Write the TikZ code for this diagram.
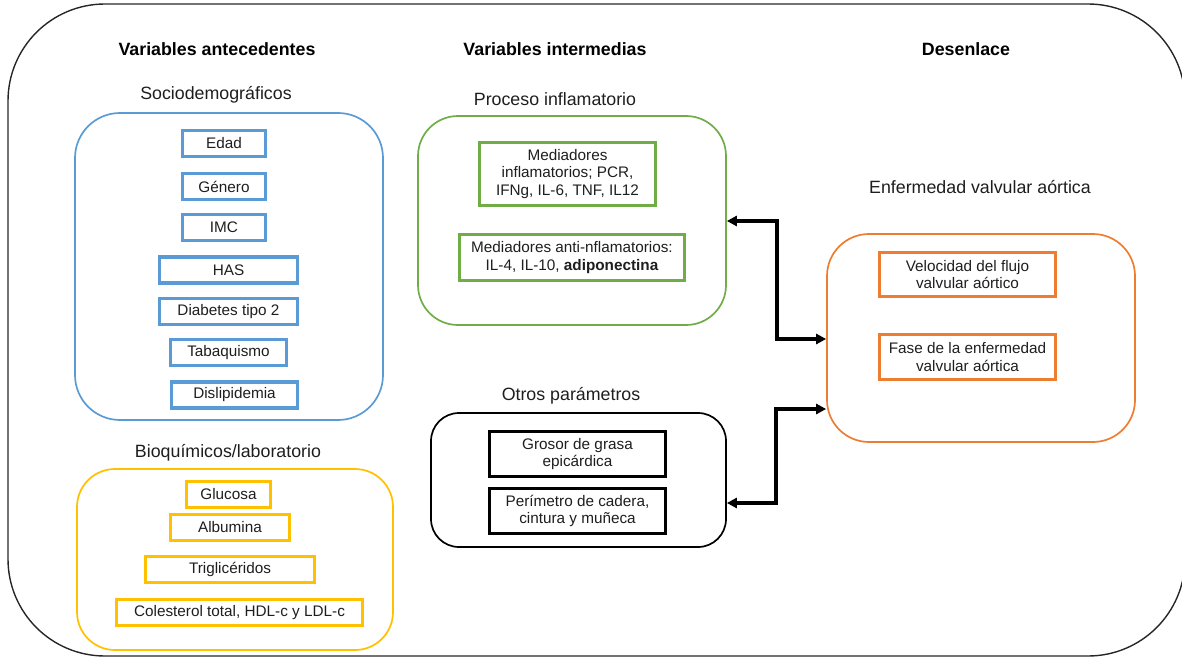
\documentclass[tikz,border=0pt]{standalone}
\usepackage{fontspec}
\setmainfont{Liberation Sans}
\usetikzlibrary{arrows.meta}
\definecolor{cblue}{HTML}{5B9BD5}
\definecolor{cgreen}{HTML}{70AD47}
\definecolor{cyellow}{HTML}{FFC000}
\definecolor{corange}{HTML}{ED7D31}
\definecolor{ctext}{HTML}{1E1E1E}
\tikzset{
  head/.style={font=\fontsize{17.8}{20}\selectfont\bfseries, text=black, inner sep=0pt},
  sub/.style={font=\fontsize{17.8}{20}\selectfont, text=ctext, inner sep=0pt},
  group/.style={draw=#1, line width=1.7pt, inner sep=0pt},
  item/.style={draw=#1, line width=3.2pt, inner sep=0pt, align=center, text=ctext,
    font=\fontsize{15.3}{17.5}\selectfont},
  link/.style={draw=black, line width=3.2pt, {Triangle[length=10pt,width=10pt]}-{Triangle[length=10pt,width=10pt]}}
}
\begin{document}
\begin{tikzpicture}[x=1pt,y=-1pt]
\useasboundingbox (0,0) rectangle (1182,658);
% outer frame
\draw[line width=1.4pt, draw=black!85, rounded corners=97pt] (8,4) rectangle (1185,656);

% headings
\node[head] (h1) at (217,49) {Variables antecedentes};
\node[head] (h2) at (555,49) {Variables intermedias};
\node[head] (h3) at (966,49) {Desenlace};

% group titles
\node[sub] (t1) at (216,95) {Sociodemográficos};
\node[sub] (t2) at (228,453) {Bioquímicos/laboratorio};
\node[sub] (t3) at (555,99) {Proceso inflamatorio};
\node[sub] (t4) at (571,396) {Otros parámetros};
\node[sub] (t5) at (980,187) {Enfermedad valvular aórtica};

% group containers
\node[group=cblue, rounded corners=45pt, minimum width=308pt, minimum height=307pt] (socio) at (229,266.5) {};
\node[group=cyellow, rounded corners=38pt, minimum width=316pt, minimum height=181pt] (bio) at (235,559.5) {};
\node[group=cgreen, rounded corners=40pt, minimum width=308pt, minimum height=209pt] (infl) at (572,220.5) {};
\node[group=black, rounded corners=28pt, minimum width=295pt, minimum height=134pt] (otros) at (578.5,480) {};
\node[group=corange, rounded corners=42pt, minimum width=308pt, minimum height=208pt] (enf) at (981,338) {};

% sociodemographic items
\node[item=cblue, minimum width=83pt, minimum height=26pt] (edad) at (224,143.5) {Edad};
\node[item=cblue, minimum width=83pt, minimum height=26pt] (genero) at (224,186.5) {Género};
\node[item=cblue, minimum width=83pt, minimum height=26pt] (imc) at (224,227.5) {IMC};
\node[item=cblue, minimum width=138pt, minimum height=26pt] (has) at (228.5,270) {HAS};
\node[item=cblue, minimum width=138pt, minimum height=26pt] (diab) at (228.5,311.5) {Diabetes tipo 2};
\node[item=cblue, minimum width=116pt, minimum height=26pt] (tab) at (228.5,352.5) {Tabaquismo};
\node[item=cblue, minimum width=126pt, minimum height=26pt] (disl) at (234.5,395) {Dislipidemia};

% biochemical items
\node[item=cyellow, minimum width=84pt, minimum height=26pt] (glu) at (228.5,494.5) {Glucosa};
\node[item=cyellow, minimum width=119pt, minimum height=26pt] (alb) at (230,527.5) {Albumina};
\node[item=cyellow, minimum width=169pt, minimum height=26pt] (tri) at (230,569.5) {Triglicéridos};
\node[item=cyellow, minimum width=246pt, minimum height=26pt] (col) at (239.5,612.5) {Colesterol total, HDL-c y LDL-c};

% inflammatory items
\node[item=cgreen, minimum width=176pt, minimum height=63pt] (med) at (567.5,174) {Mediadores\\inflamatorios; PCR,\\IFNg, IL-6, TNF, IL12};
\node[item=cgreen, minimum width=225pt, minimum height=46pt] (anti) at (572,257.5) {Mediadores anti-nflamatorios:\\IL-4, IL-10, \textbf{adiponectina}};

% other parameters
\node[item=black, minimum width=176pt, minimum height=45pt] (gros) at (577.5,454) {Grosor de grasa\\epicárdica};
\node[item=black, minimum width=176pt, minimum height=45pt] (peri) at (577.5,511) {Perímetro de cadera,\\cintura y muñeca};

% outcome items
\node[item=corange, minimum width=176pt, minimum height=44pt] (vel) at (967.5,274.5) {Velocidad del flujo\\valvular aórtico};
\node[item=corange, minimum width=176pt, minimum height=45pt] (fase) at (967.5,357) {Fase de la enfermedad\\valvular aórtica};

% connectors
\coordinate (j1) at (777,221);
\coordinate (j2) at (777,339);
\coordinate (j3) at (776,409);
\coordinate (j4) at (776,503);
\draw[link] (infl.east |- j1) -- (j1) -- (j2) -- (enf.west |- j2);
\draw[link] (enf.west |- j3) -- (j3) -- (j4) -- (otros.east |- j4);
\end{tikzpicture}
\end{document}
